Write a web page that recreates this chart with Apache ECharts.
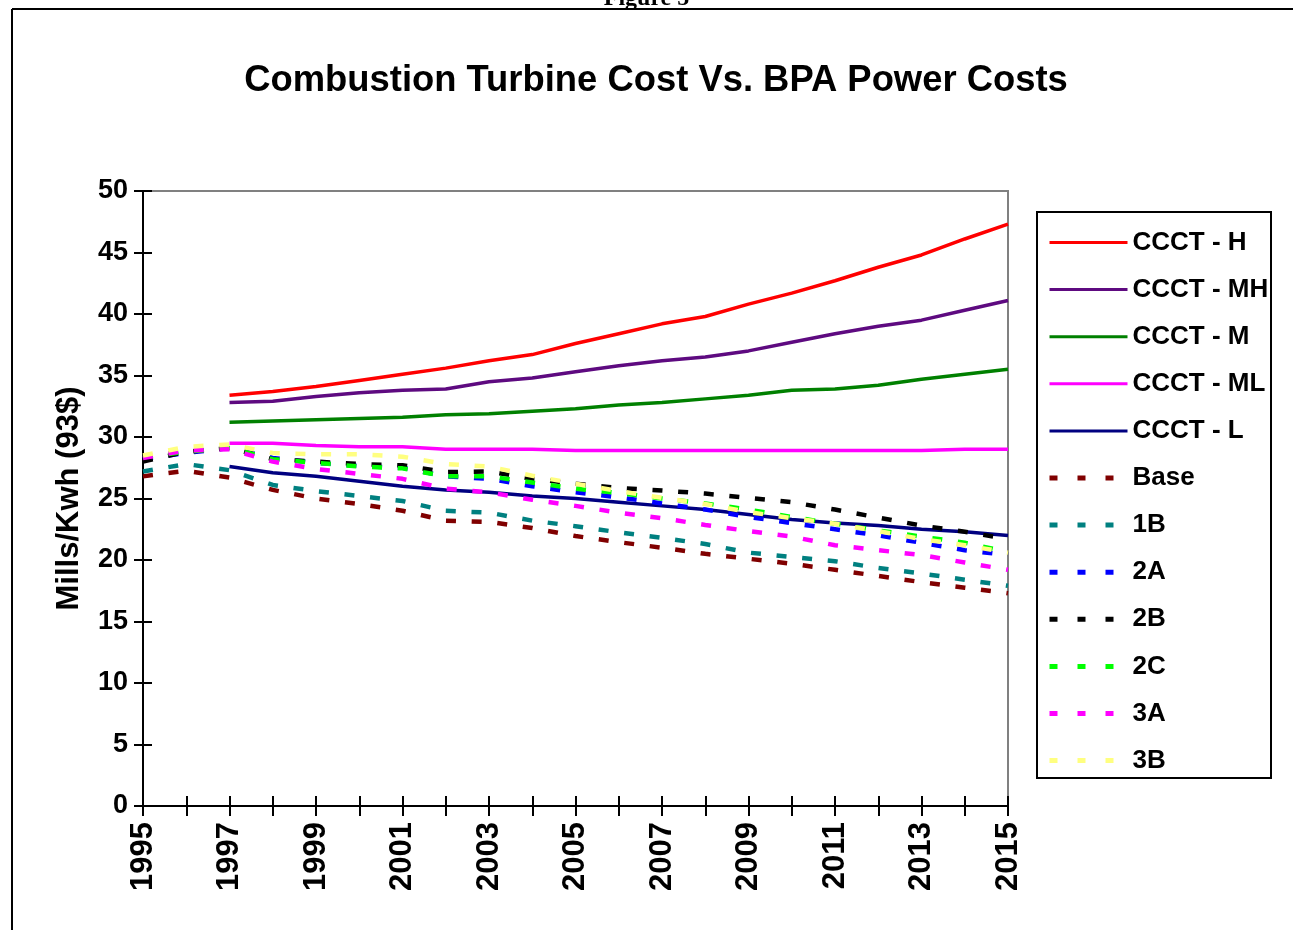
<!DOCTYPE html>
<html>
<head>
<meta charset="utf-8">
<script src="https://cdn.jsdelivr.net/npm/echarts@6/dist/echarts.min.js"></script>
<style>
html,body{margin:0;padding:0;background:#fff;}
#chart{width:1293px;height:930px;}
</style>
</head>
<body>
<div id="chart"></div>
<script>
const years = ['1995','1996','1997','1998','1999','2000','2001','2002','2003','2004','2005','2006','2007','2008','2009','2010','2011','2012','2013','2014','2015'];
const yTicks = {min: 0, max: 50, interval: 5};

const ccctH  = [null,null,33.4,33.7,34.1,34.6,35.1,35.6,36.2,36.7,37.6,38.4,39.2,39.8,40.8,41.7,42.7,43.8,44.8,46.1,47.3];
const ccctMH = [null,null,32.8,32.9,33.3,33.6,33.8,33.9,34.5,34.8,35.3,35.8,36.2,36.5,37.0,37.7,38.4,39.0,39.5,40.3,41.1];
const ccctM  = [null,null,31.2,31.3,31.4,31.5,31.6,31.8,31.9,32.1,32.3,32.6,32.8,33.1,33.4,33.8,33.9,34.2,34.7,35.1,35.5];
const ccctML = [null,null,29.5,29.5,29.3,29.2,29.2,29.0,29.0,29.0,28.9,28.9,28.9,28.9,28.9,28.9,28.9,28.9,28.9,29.0,29.0];
const ccctL  = [null,null,27.6,27.1,26.8,26.4,26.0,25.7,25.5,25.2,25.0,24.7,24.4,24.1,23.7,23.3,23.0,22.8,22.5,22.3,22.0];
const base   = [26.8,27.25,26.7,25.7,25.0,24.55,24.0,23.2,23.1,22.6,21.95,21.45,21.0,20.5,20.1,19.7,19.2,18.7,18.2,17.75,17.3];
const s1B    = [27.2,27.8,27.3,26.1,25.6,25.2,24.8,24.0,23.85,23.2,22.75,22.25,21.8,21.3,20.6,20.25,19.9,19.35,18.9,18.4,17.9];
const s2A    = [28.2,28.7,29.1,28.3,27.9,27.65,27.5,26.8,26.6,26.0,25.5,25.1,24.6,24.1,23.5,23.0,22.5,22.0,21.4,20.8,20.4];
const s2B    = [28.0,28.8,29.1,28.2,28.0,27.8,27.7,27.15,27.2,26.6,26.2,25.85,25.65,25.4,25.05,24.7,24.1,23.45,22.8,22.3,21.7];
const s2C    = [28.35,28.8,29.1,28.2,27.9,27.6,27.45,26.8,26.8,26.3,25.8,25.45,25.0,24.6,24.1,23.5,22.95,22.4,21.9,21.4,20.65];
const s3A    = [28.3,28.9,29.0,28.0,27.4,27.0,26.6,25.8,25.5,24.9,24.4,23.85,23.4,22.85,22.35,21.9,21.2,20.8,20.4,19.8,19.2];
const s3B    = [28.5,29.2,29.4,28.7,28.6,28.6,28.4,27.8,27.6,26.85,26.2,25.6,25.05,24.55,23.9,23.4,22.95,22.35,21.7,21.2,20.6];

const seriesNames = ['CCCT - H','CCCT - MH','CCCT - M','CCCT - ML','CCCT - L','Base','1B','2A','2B','2C','3A','3B'];
const seriesData  = [ccctH, ccctMH, ccctM, ccctML, ccctL, base, s1B, s2A, s2B, s2C, s3A, s3B];
const seriesColors = ['#FF0000','#5E0A80','#008000','#FF00FF','#000080','#800000','#008080','#0000FF','#000000','#00FF00','#FF00FF','#FFFF80'];
const seriesDotted = [false,false,false,false,false,true,true,true,true,true,true,true];

const SANS = "'Liberation Sans', Arial, sans-serif";

const chart = echarts.init(document.getElementById('chart'), null, {renderer: 'canvas'});

const series = seriesNames.map((name, i) => ({
  name: name,
  type: 'line',
  data: seriesData[i],
  symbol: 'none',
  showSymbol: false,
  smooth: false,
  connectNulls: false,
  animation: false,
  color: seriesColors[i],
  lineStyle: seriesDotted[i]
    ? {color: seriesColors[i], width: 4.5, type: [10, 15.7]}
    : {color: seriesColors[i], width: 3.5, type: 'solid'},
  emphasis: {disabled: true}
}));

const legendData = seriesNames.map((name, i) => seriesDotted[i]
  ? {name: name, lineStyle: {type: [8, 20], width: 5, color: seriesColors[i]}}
  : {name: name, lineStyle: {type: 'solid', width: 3, color: seriesColors[i]}});

const option = {
  animation: false,
  backgroundColor: '#ffffff',
  title: {
    text: 'Combustion Turbine Cost Vs. BPA Power Costs',
    left: 651,
    top: 58,
    textAlign: 'center',
    textStyle: {fontFamily: SANS, fontWeight: 'bold', fontSize: 36.4, color: '#000'}
  },
  graphic: [
    {type: 'text', left: 'center', top: -13, silent: true,
     style: {text: 'Figure 5', font: "bold 24px 'Liberation Serif', serif", fill: '#000'}},
    {type: 'line', silent: true, shape: {x1: 12, y1: 9, x2: 1293, y2: 9}, style: {stroke: '#000', lineWidth: 2}},
    {type: 'line', silent: true, shape: {x1: 12, y1: 9, x2: 12, y2: 930}, style: {stroke: '#000', lineWidth: 2}},
    {type: 'rect', silent: true, shape: {x: 1037, y: 212, width: 234, height: 566},
     style: {fill: 'none', stroke: '#000', lineWidth: 2}}
  ],
  grid: {
    left: 143, top: 191, width: 865, height: 615,
    show: true, borderColor: '#808080', borderWidth: 2, backgroundColor: 'transparent'
  },
  legend: {
    orient: 'vertical',
    left: 1047,
    top: 227,
    padding: 0,
    itemWidth: 78,
    itemHeight: 2,
    itemGap: 16.1,
    data: legendData,
    selectedMode: false,
    itemStyle: {opacity: 0, borderWidth: 0},
    textStyle: {fontFamily: SANS, fontWeight: 'bold', fontSize: 26, color: '#000', lineHeight: 31}
  },
  xAxis: [
    {
      type: 'category', data: years, boundaryGap: false, position: 'bottom',
      axisLine: {show: true, onZero: false, lineStyle: {color: '#000', width: 2}},
      axisTick: {show: true, interval: 0, length: 10, inside: false, lineStyle: {color: '#000', width: 2}},
      axisLabel: {interval: 1, rotate: 90, margin: 16, color: '#000', fontFamily: SANS, fontWeight: 'bold', fontSize: 31},
      splitLine: {show: false}
    },
    {
      type: 'category', data: years, boundaryGap: false, position: 'bottom',
      axisLine: {show: false, onZero: false},
      axisTick: {show: true, interval: 0, length: 10, inside: true, lineStyle: {color: '#000', width: 2}},
      axisLabel: {show: false},
      splitLine: {show: false}
    }
  ],
  yAxis: [
    {
      type: 'value', min: yTicks.min, max: yTicks.max, interval: yTicks.interval, position: 'left',
      name: 'Mills/Kwh (93$)', nameLocation: 'middle', nameGap: 58, nameRotate: 90,
      nameTextStyle: {fontFamily: SANS, fontWeight: 'bold', fontSize: 31, color: '#000'},
      axisLine: {show: true, onZero: false, lineStyle: {color: '#000', width: 2}},
      axisTick: {show: true, length: 9, inside: false, lineStyle: {color: '#000', width: 2}},
      axisLabel: {margin: 15, color: '#000', fontFamily: SANS, fontWeight: 'bold', fontSize: 27},
      splitLine: {show: false}
    },
    {
      type: 'value', min: yTicks.min, max: yTicks.max, interval: yTicks.interval, position: 'left',
      axisLine: {show: false, onZero: false},
      axisTick: {show: true, length: 9, inside: true, lineStyle: {color: '#000', width: 2}},
      axisLabel: {show: false},
      splitLine: {show: false}
    }
  ],
  series: series
};

chart.setOption(option);
</script>
</body>
</html>
